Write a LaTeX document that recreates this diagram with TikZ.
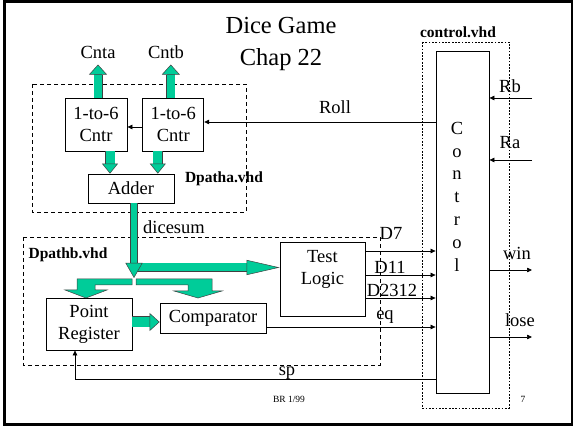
\documentclass[tikz,border=0pt]{standalone}
\usepackage{fontspec}
\setmainfont{Liberation Serif}
\usetikzlibrary{arrows.meta,positioning}
\definecolor{busgreen}{RGB}{0,204,153}

\tikzset{
  box/.style={draw, line width=0.8pt, fill=white, inner sep=0pt, align=center,
    font=\fontsize{18.5}{22}\selectfont},
  txt/.style={inner sep=0pt, align=center, font=\fontsize{18.5}{22}\selectfont},
  vhd/.style={inner sep=0pt, font=\bfseries\fontsize{15.5}{18}\selectfont},
  sig/.style={line width=0.7pt, -{Triangle[length=5pt,width=4.5pt]}},
  bus/.style n args={3}{draw=busgreen, line width=#1,
    -{Triangle[width=#2,length=#3,fill=busgreen,color=black!75,line width=0.5pt]},
    preaction={draw=black!75, arrows=-, line width=#1+1pt, shorten >=#3}},
  busbend/.style={fill=busgreen, draw=black!75, line width=0.5pt},
}

\begin{document}
\begin{tikzpicture}[x=1pt, y=-1pt]
\useasboundingbox (0,0) rectangle (574,427);
\draw[line width=2.5pt] (4.5,1.5) rectangle (572,424.5);

\node[txt, font=\fontsize{24.5}{32}\selectfont] (title) at (281,44) {Dice Game\\Chap 22};

% vhd files
\draw[line width=0.8pt, dash pattern=on 4pt off 3pt] (32,84) rectangle (246,212);
\draw[line width=0.8pt, dash pattern=on 4pt off 3pt] (23,237) rectangle (380,365);
\draw[line width=0.7pt, dash pattern=on 1.8pt off 1.5pt] (422,42) rectangle (509,408);
\node[vhd] (pa) at (224,179) {Dpatha.vhd};
\node[vhd] (pb) at (68,255) {Dpathb.vhd};
\node[vhd] (pc) at (458,32) {control.vhd};

% blocks
\node[box, minimum width=62pt, minimum height=53pt] (ca) at (96,124.5) {1-to-6\\Cntr};
\node[box, minimum width=61pt, minimum height=53pt, right=15pt of ca] (cb) {1-to-6\\Cntr};
\node[box, minimum width=86pt, minimum height=29pt] (add) at (131,188.5) {Adder};
\node[box, minimum width=85pt, minimum height=74pt] (tl) at (322.5,279) {};
\node[txt] (tltxt) at ([yshift=9.5pt]tl.center) {Test\\Logic};
\node[box, minimum width=86pt, minimum height=52pt] (preg) at (89,324) {Point\\Register};
\node[box, minimum width=106pt, minimum height=30pt] (comp) at (213,318) {Comparator};
\node[box, minimum width=53pt, minimum height=342pt] (ctrl) at (462.5,222) {};
\node[txt, font=\fontsize{18.5}{22.8}\selectfont] (ctrltxt) at (457,196.5) {C\\o\\n\\t\\r\\o\\l};

% labels
\node[txt] (cnta) at (98,52) {Cnta};
\node[txt] (cntb) at (166,52) {Cntb};
\node[txt] (roll) at (335,107) {Roll};
\node[txt] (dsum) at (174,227) {dicesum};
\node[txt] (rbl) at (510,86) {Rb};
\node[txt] (ral) at (510,143) {Ra};
\node[txt] (winl) at (517,253) {win};
\node[txt] (losel) at (520,320) {lose};
\node[txt] (d7) at (391,233) {D7};
\node[txt] (d11) at (390,267) {D11};
\node[txt] (d2312) at (392,290) {D2312};
\node[txt] (eql) at (385,317) {eq};
\node[txt] (spl) at (287,373) {sp};
\node[inner sep=0pt, font=\fontsize{9.5}{11}\selectfont] (br) at (289,399) {BR 1/99};
\node[inner sep=0pt, font=\fontsize{9.5}{11}\selectfont] (pg) at (523,399) {7};

% buses
\draw[bus={8pt}{18pt}{10pt}] ([xshift=2pt]ca.north) -- ++(0,-33);
\draw[bus={8pt}{18pt}{10pt}] ([xshift=-2.5pt]cb.north) -- ++(0,-33);
\draw[bus={9pt}{16pt}{10pt}] ([xshift=14pt]ca.south) -- ([xshift=14pt]ca.south |- add.north);
\draw[bus={9pt}{16pt}{10pt}] ([xshift=-15.5pt]cb.south) -- ([xshift=-15.5pt]cb.south |- add.north);
\coordinate (split) at (134,278);
\coordinate (fork) at (137,267.5);
\draw[bus={8pt}{15pt}{33pt}] (fork) -- (fork -| tl.west);
\draw[bus={6.5pt}{17pt}{15pt}] (split |- add.south) -- (split);
\filldraw[busbend] (132,279) -- (77,279) -- (77,290) -- (65,290) -- (86,298)
  -- (107,290) -- (95,290) -- (95,285) -- (132,285) -- cycle;
\filldraw[busbend] (136,279) -- (212,279) -- (212,291) -- (222,291) -- (198,298)
  -- (174,291) -- (188,291) -- (188,285) -- (136,285) -- cycle;
\draw[bus={10pt}{18pt}{10pt}] ([yshift=2pt]preg.east) -- ([yshift=2pt]preg.east -| comp.west);

% control signals
\draw[sig] (ctrl.west |- 0,122) -- (cb.east |- 0,122);
\draw[sig] (cb.west |- 0,127) -- (ca.east |- 0,127);
\coordinate (rb) at (532,98);
\coordinate (ra) at (532,160);
\draw[sig] (rb) -- (rb -| ctrl.east);
\draw[sig] (ra) -- (ra -| ctrl.east);
\foreach \y in {251,275,298}
  \draw[sig] (tl.east |- 0,\y) -- (ctrl.west |- 0,\y);
\draw[sig] (comp.east |- 0,327) -- (ctrl.west |- 0,327);
\coordinate (win) at (532,270);
\coordinate (lose) at (532,337);
\draw[sig] (win -| ctrl.east) -- (win);
\draw[sig] (lose -| ctrl.east) -- (lose);
\draw[sig] (ctrl.west |- 0,379) -| ([xshift=-14pt]preg.south);
\end{tikzpicture}
\end{document}
